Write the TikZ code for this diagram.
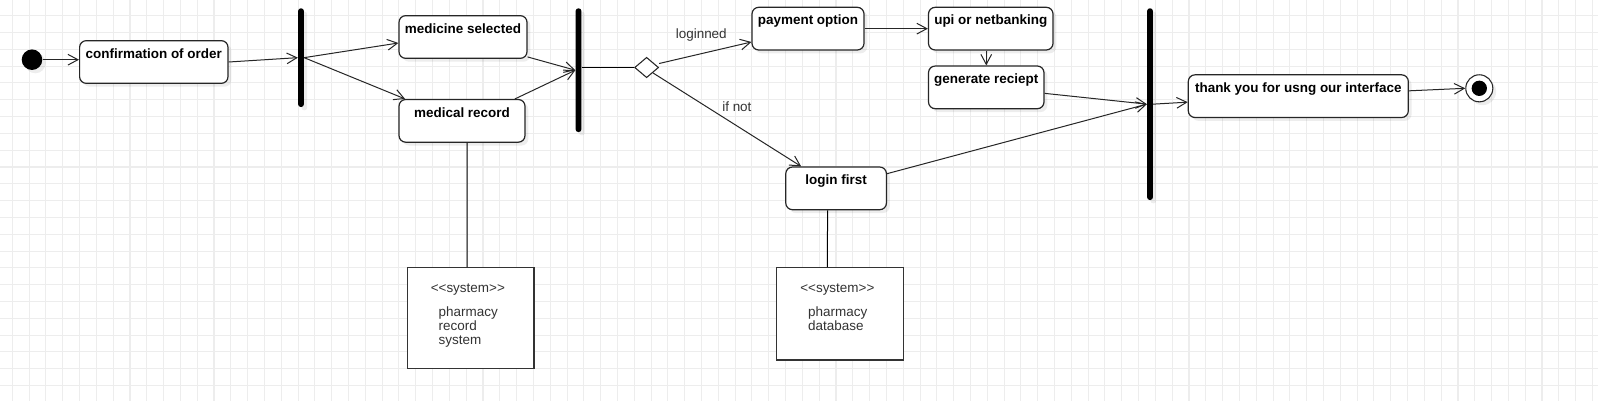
\documentclass[tikz,border=0pt]{standalone}
\usepackage{fontspec}
\setmainfont{Liberation Sans}
\usetikzlibrary{
    arrows.meta,
    positioning,
    shapes.geometric,
    shadows
}

\begin{document}
\begin{tikzpicture}[
    x=0.75pt, y=-0.75pt,
    font=\fontsize{10.1pt}{10.5pt}\selectfont,
    gridline/.style   = {draw=black!7, line width=0.8pt},
    softshadow/.style = {drop shadow={shadow xshift=2.5pt, shadow yshift=-2.5pt,
                         fill=black, opacity=0.07}},
    startnode/.style  = {circle, fill=black, minimum size=15.4pt, inner sep=0pt,
                         softshadow},
    endnode/.style    = {circle, draw=black!85, fill=white, line width=0.8pt,
                         minimum size=20.3pt, inner sep=0pt, softshadow,
                         path picture={\fill[black] (path picture bounding box.center)
                         circle (5.75pt);}},
    actnode/.style    = {rectangle, rounded corners=5pt, draw=black!85, fill=white,
                         line width=0.9pt, inner ysep=0pt, text height=13.2pt,
                         text depth=18.8pt, softshadow,
                         font=\fontsize{10.1pt}{10.5pt}\selectfont\bfseries},
    barnode/.style    = {rectangle, rounded corners=2pt, fill=black,
                         minimum width=4.3pt, inner sep=0pt, softshadow},
    choicenode/.style = {diamond, draw=black!85, fill=white, line width=0.8pt,
                         minimum width=18pt, minimum height=15.3pt, inner sep=0pt},
    sysnode/.style    = {rectangle, draw=black!80, fill=white, line width=1pt,
                         minimum width=95pt},
    systext/.style    = {align=left, inner sep=0pt, text=black!80, xshift=-2pt},
    flow/.style       = {draw=black!85, line width=0.75pt,
                         -{Straight Barb[length=7.5pt, width=8pt]}},
    link/.style       = {draw=black, line width=0.75pt},
    guard/.style      = {text=black!80, inner sep=0pt},
]
    %Background
    \useasboundingbox (0,0) rectangle (1598,401);
    \fill[white] (0,0) rectangle (1598,401);
    \foreach \i in {0,...,94}
        \draw[gridline] (12.3+\i*16.81,0) -- (12.3+\i*16.81,401);
    \foreach \j in {0,...,22}
        \draw[gridline] (0,15.7+\j*16.81) -- (1598,15.7+\j*16.81);

    %Nodes
    \node[startnode]                       (start)     at (32,59.7)      {};
    \node[actnode, minimum width=111.3pt]  (confirm)   at (153.8,62)     {confirmation of order};
    \node[barnode, minimum height=74pt]    (fork)      at (301,57.65)    {};
    \node[actnode, minimum width=96pt]     (medicine)  at (463,37)       {medicine selected};
    \node[actnode, minimum width=94.5pt]   (record)    at (462,120.85)   {medical record};
    \node[barnode, minimum height=92.8pt]  (join)      at (578.5,70.2)   {};
    \node[choicenode]                      (choice)    at (646.6,67.5)   {};
    \node[actnode, minimum width=84pt]     (payment)   at (808,28.65)    {payment option};
    \node[actnode, minimum width=93.4pt]   (upi)       at (990.75,28.65) {upi or netbanking};
    \node[actnode, minimum width=86.6pt]   (receipt)   at (986.25,87.35) {generate reciept};
    \node[actnode, minimum width=75.5pt]   (login)     at (836.1,188.35) {login first};
    \node[barnode, minimum height=143.8pt] (merge)     at (1150,104.15)  {};
    \node[actnode, minimum width=165pt]    (thanks)    at (1298.3,96.15) {thank you for usng our interface};
    \node[endnode]                         (finish)    at (1479.3,88.3)  {};

    \node[sysnode, minimum height=75.75pt] (recordsys) at (470.5,318.2)  {};
    \node[systext, below=12pt of recordsys.north] (recordtext)
        {<{}<system>{}>\\[7.8pt]\hspace*{5.9pt}pharmacy\\\hspace*{5.9pt}record\\\hspace*{5.9pt}system};
    \node[sysnode, minimum height=69.2pt]  (datasys)   at (840,313.85)   {};
    \node[systext, below=12pt of datasys.north] (datatext)
        {<{}<system>{}>\\[7.8pt]\hspace*{5.9pt}pharmacy\\\hspace*{5.9pt}database};

    %Lines
    \draw[flow] (start) -- (confirm.west |- start);
    \draw[flow] (confirm.east) -- (fork.west);
    \draw[flow] (fork.east) -- ([yshift=-4.5pt]medicine.west);
    \draw[flow] (fork.east) -- ([xshift=5pt]record.north west);
    \draw[flow] ([yshift=1.5pt]medicine.south east) -- (join.west);
    \draw[flow] ([xshift=-8pt]record.north east) -- (join.west);
    \draw[link] (join.east |- choice.west) -- (choice.west);
    \draw[flow] ([yshift=3pt]choice.east) -- node[guard, above=8pt, xshift=-3pt] {loginned}
                ([yshift=-10pt]payment.west);
    \draw[flow] (payment.east) -- (upi.west);
    \draw[flow] (receipt.north |- upi.south) -- (receipt.north);
    \draw[flow] (choice.south east) -- node[guard, above=6pt, xshift=7.4pt] {if not}
                ([xshift=12pt]login.north west);
    \draw[flow] ([yshift=-4.5pt]receipt.east) -- (merge.west);
    \draw[flow] ([yshift=11pt]login.east) -- (merge.west);
    \draw[flow] (merge.east) -- ([yshift=-4.5pt]thanks.west);
    \draw[flow] ([yshift=4pt]thanks.east) -- (finish.west);
    \draw[link] ([xshift=3.75pt]record.south) -- ([xshift=-2.6pt]recordsys.north);
    \draw[link] ([xshift=-6.45pt]login.south) -- ([xshift=-9.4pt]datasys.north);
\end{tikzpicture}
\end{document}
